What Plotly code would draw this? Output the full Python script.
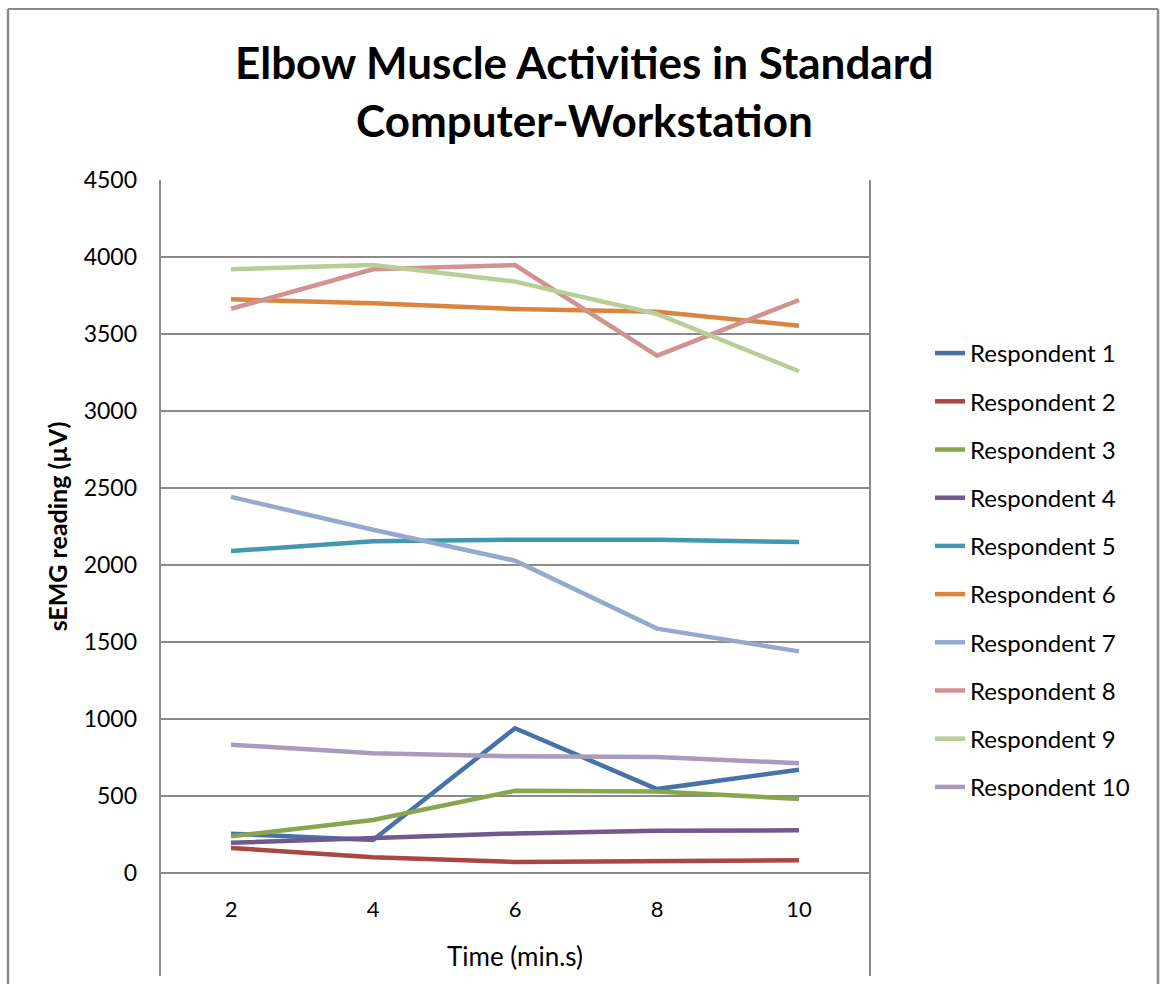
import plotly.graph_objects as go

# sEMG readings (µV) at each recording time
times = ["2", "4", "6", "8", "10"]
respondents = [f"Respondent {i}" for i in range(1, 11)]

r1 = [255, 214, 940, 545, 670]
r2 = [163, 102, 72, 76, 82]
r3 = [238, 344, 534, 530, 481]
r4 = [196, 225, 257, 275, 277]
r5 = [2091, 2154, 2164, 2164, 2149]
r6 = [3725, 3699, 3662, 3645, 3554]
r7 = [2442, 2229, 2028, 1587, 1439]
r8 = [3664, 3920, 3948, 3359, 3721]
r9 = [3920, 3948, 3840, 3630, 3258]
r10 = [833, 777, 758, 753, 713]
series = [r1, r2, r3, r4, r5, r6, r7, r8, r9, r10]

colors = ["#4572A7", "#AA4643", "#89A54E", "#71588F", "#4198AF",
          "#DB843D", "#93A9CF", "#D19392", "#B9CD96", "#A99BBD"]

FONT = "Lato"
GRID = "#8a8a8a"

W, H = 1161, 984
L, R, T, B = 160, 870, 180, 873  # plot area edges in pixels

def px_x(x):
    return (x - L) / (R - L)

def px_y(y):
    return (B - y) / (B - T)

fig = go.Figure()
for name, vals, col in zip(respondents, series, colors):
    fig.add_trace(go.Scatter(
        x=times, y=vals, name=name, mode="lines",
        line=dict(color=col, width=4.5),
        legendgroup=name,
    ))

# frame lines: plot sides extend below the axis, outer chart border
shapes = [
    dict(type="line", xref="paper", yref="paper", x0=0, x1=0,
         y0=1, y1=px_y(976), line=dict(color=GRID, width=2)),
    dict(type="line", xref="paper", yref="paper", x0=1, x1=1,
         y0=1, y1=px_y(976), line=dict(color=GRID, width=2)),
    dict(type="line", xref="paper", yref="paper", x0=px_x(8), x1=px_x(1158),
         y0=px_y(9), y1=px_y(9), line=dict(color=GRID, width=2)),
    dict(type="line", xref="paper", yref="paper", x0=px_x(8), x1=px_x(8),
         y0=px_y(9), y1=px_y(990), line=dict(color=GRID, width=2.5)),
    dict(type="line", xref="paper", yref="paper", x0=px_x(1158), x1=px_x(1158),
         y0=px_y(9), y1=px_y(990), line=dict(color=GRID, width=2.5)),
]

annotations = [
    dict(text="<b>Elbow Muscle Activities in Standard</b>", xref="paper", yref="paper",
         x=px_x(584), y=px_y(62), showarrow=False, xanchor="center", yanchor="middle",
         font=dict(family=FONT, size=44, color="black")),
    dict(text="<b>Computer-Workstation</b>", xref="paper", yref="paper",
         x=px_x(584), y=px_y(120), showarrow=False, xanchor="center", yanchor="middle",
         font=dict(family=FONT, size=44, color="black")),
]

fig.update_layout(
    width=W, height=H,
    margin=dict(l=L, r=W - R, t=T, b=H - B),
    paper_bgcolor="white", plot_bgcolor="white",
    font=dict(family=FONT, size=22, color="black"),
    showlegend=True,
    legend=dict(x=px_x(930), y=px_y(570), xanchor="left", yanchor="middle",
                font=dict(family=FONT, size=24, color="black"),
                tracegroupgap=14, bgcolor="rgba(0,0,0,0)"),
    shapes=shapes,
    annotations=annotations,
    xaxis=dict(
        type="category", range=[-0.5, 4.5], showgrid=False, zeroline=False,
        showline=False, ticks="", tickfont=dict(family=FONT, size=22),
        ticklabelstandoff=21,
        title=dict(text="Time (min.s)", font=dict(family=FONT, size=26), standoff=26),
    ),
    yaxis=dict(
        range=[0, 4500], dtick=500, showgrid=True, gridcolor=GRID, gridwidth=2,
        zeroline=True, zerolinecolor=GRID, zerolinewidth=2,
        showline=False, ticks="", tickfont=dict(family=FONT, size=23),
        ticklabelstandoff=22,
        title=dict(text="<b>sEMG reading (µV)</b>", font=dict(family=FONT, size=25),
                   standoff=8),
    ),
)

fig.write_html("out.html")
